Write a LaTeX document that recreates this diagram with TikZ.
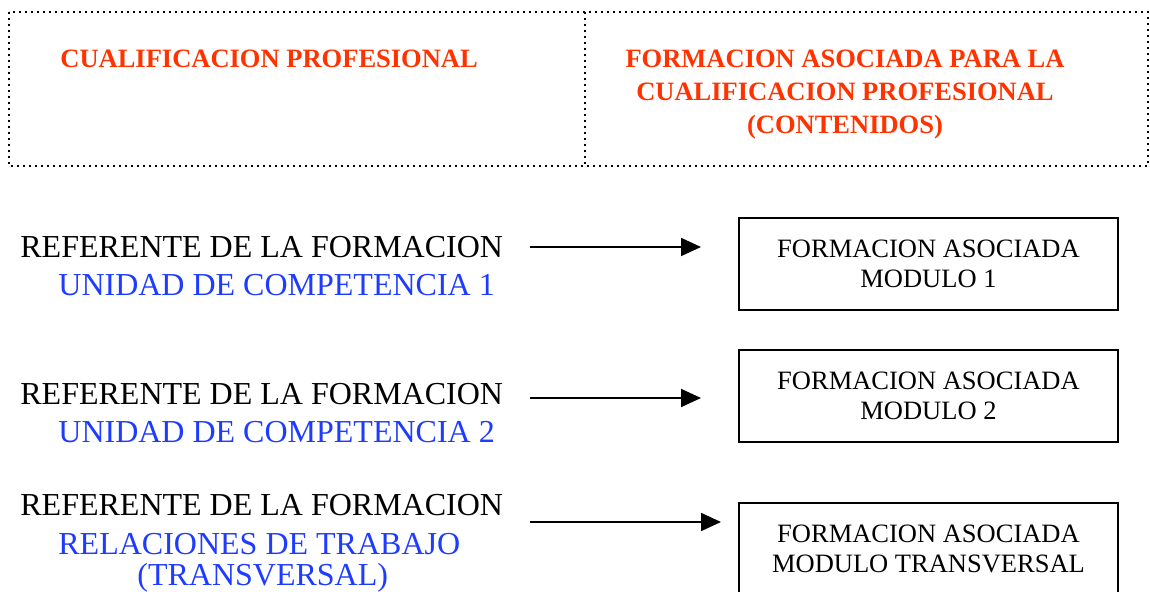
\documentclass[tikz,border=0pt]{standalone}
\usepackage{fontspec}
\setmainfont{Liberation Serif}
\usetikzlibrary{arrows.meta}
\usetikzlibrary{positioning}

\definecolor{titlered}{RGB}{255,51,0}
\definecolor{unitblue}{RGB}{30,60,255}

\tikzset{
    header/.style={text=titlered, font=\fontsize{13.25}{16.5}\selectfont\bfseries, inner sep=0pt},
    reftext/.style={anchor=base west, inner sep=0pt, font=\fontsize{16}{19}\selectfont},
    unittext/.style={reftext, text=unitblue},
    modbox/.style={draw, line width=0.6pt, minimum width=189.5pt, minimum height=46pt,
        align=center, inner sep=0pt, font=\fontsize{13.25}{15}\selectfont},
    linkarrow/.style={line width=0.9pt, -{Triangle[length=10pt,width=9pt]}}
}

\begin{document}
\begin{tikzpicture}[x=0.5pt,y=-0.5pt]
    \useasboundingbox (0,0) rectangle (1150,592);
    \clip (0,0) rectangle (1150,592);

    % header table
    \draw[dotted, line width=1pt] (9,12) rectangle (1148,166);
    \draw[dotted, line width=1pt] (585,12) -- (585,166);
    \node[header, anchor=base west] (cualif) at (60,68) {CUALIFICACION PROFESIONAL};
    \node[header, align=center] (formac) at (845,95)
        {FORMACION ASOCIADA PARA LA\\CUALIFICACION PROFESIONAL\\(CONTENIDOS)};

    % first row
    \node[reftext] (ref1) at (20,258) {REFERENTE DE LA FORMACION};
    \node[unittext] (uc1) at (58,296) {UNIDAD DE COMPETENCIA 1};
    \node[modbox] (mod1) at (928.5,264) {FORMACION ASOCIADA\\MODULO 1};
    \coordinate (a1s) at (530,247);
    \coordinate (a1e) at (701,247);
    \draw[linkarrow] (a1s) -- (a1e);

    % second row
    \node[reftext] (ref2) at (20,405) {REFERENTE DE LA FORMACION};
    \node[unittext] (uc2) at (58,443) {UNIDAD DE COMPETENCIA 2};
    \node[modbox] (mod2) at (928.5,396) {FORMACION ASOCIADA\\MODULO 2};
    \coordinate (a2s) at (530,398);
    \coordinate (a2e) at (701,398);
    \draw[linkarrow] (a2s) -- (a2e);

    % third row
    \node[reftext] (ref3) at (20,516) {REFERENTE DE LA FORMACION};
    \node[unittext] (rel) at (58,554) {RELACIONES DE TRABAJO};
    \node[unittext] (transv) at (137,585) {(TRANSVERSAL)};
    \node[modbox] (mod3) at (928.5,549) {FORMACION ASOCIADA\\MODULO TRANSVERSAL};
    \coordinate (a3s) at (530,522);
    \coordinate (a3e) at (721,522);
    \draw[linkarrow] (a3s) -- (a3e);
\end{tikzpicture}
\end{document}
